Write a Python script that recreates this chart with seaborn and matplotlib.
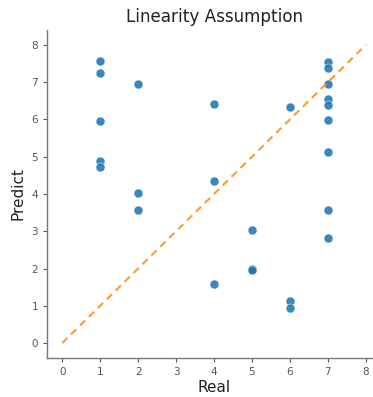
import matplotlib
matplotlib.use("Agg")
import matplotlib.pyplot as plt
import seaborn as sns
import pandas as pd

real = [1, 1, 1, 1, 1,
        2, 2, 2,
        4, 4, 4,
        5, 5, 5,
        6, 6, 6,
        7, 7, 7, 7, 7, 7, 7, 7, 7]
predict = [7.57, 7.25, 5.96, 4.88, 4.72,
           6.96, 4.02, 3.56,
           6.42, 4.34, 1.58,
           3.04, 1.98, 1.95,
           6.33, 1.14, 0.94,
           7.53, 7.39, 6.95, 6.56, 6.40, 5.98, 5.12, 3.56, 2.81]
line_ends = [0, 8]

df = pd.DataFrame({"Real": real, "Predict": predict})

sns.set_style("white")
fig = plt.figure(figsize=(3.73, 3.97), dpi=100)
ax = fig.add_axes([47/373, (397-358)/397, (381-47)/373, (358-30)/397])

sns.scatterplot(data=df, x="Real", y="Predict", ax=ax, s=42, color="#1f77b4",
                alpha=0.88, edgecolor="white", linewidth=0.4)
ax.plot(line_ends, line_ends, color="#ff9a2e", linestyle=(0, (3.5, 2.5)), linewidth=1.5)

ax.set_xlim(-0.4, 8.4)
ax.set_ylim(-0.4, 8.4)
ax.set_xticks(range(0, 9))
ax.set_yticks(range(0, 9))
ax.tick_params(axis="both", labelsize=7.5, colors="#555555", length=3, width=0.8,
               bottom=True, left=True)
for s in ["top", "right"]:
    ax.spines[s].set_visible(False)
for s in ["left", "bottom"]:
    ax.spines[s].set_color("#777777")
    ax.spines[s].set_linewidth(1.0)

ax.set_title("Linearity Assumption", fontsize=12.1, color="#222222", pad=6)
ax.set_xlabel("Real", fontsize=11, color="#222222", labelpad=2)
ax.set_ylabel("Predict", fontsize=11, color="#222222")

fig.savefig("out.png", dpi=100)
